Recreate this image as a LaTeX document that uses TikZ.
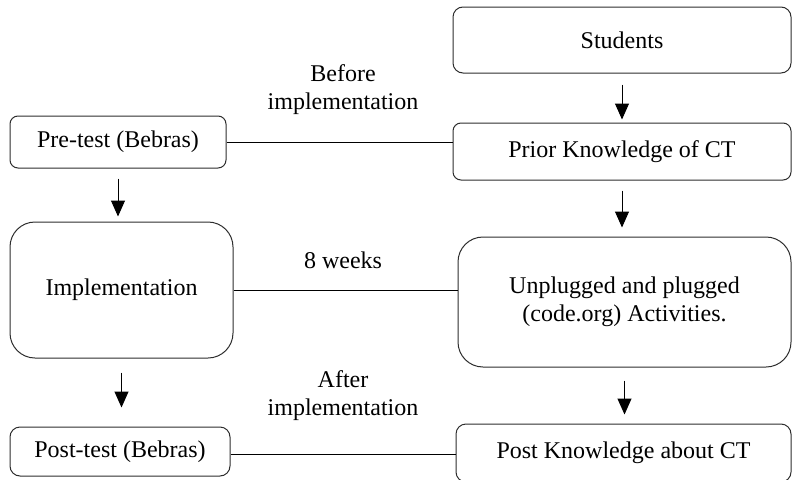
\documentclass[tikz,border=0pt]{standalone}
\usepackage{fontspec}
\setmainfont{Liberation Serif}
\usetikzlibrary{arrows.meta,positioning}
\definecolor{boxline}{RGB}{45,45,45}

\begin{document}
\begin{tikzpicture}[x=1pt, y=-1pt, every node/.style={font=\fontsize{24}{28}\selectfont},
  box/.style={draw=boxline, line width=1pt, rounded corners=#1, align=center, inner sep=0pt},
  box/.default=8pt,
  link/.style={line width=1pt},
  down/.style={line width=1pt, -{Triangle[width=14pt,length=16pt]}}]
  \useasboundingbox (0,0) rectangle (792,479);
  % ---------------- RIGHT COLUMN ----------------
  \node[box=10pt, minimum width=338pt, minimum height=66pt] (students) at (622,40) {Students};
  \node[box, minimum width=338pt, minimum height=57pt] (prior) at (622,151.5) {Prior Knowledge of CT};
  \node[box=25pt, minimum width=333pt, minimum height=130pt] (unplug) at (624.5,302) {Unplugged and plugged\\(code.org) Activities.};
  \node[box=10pt, minimum width=335pt, minimum height=58pt] (postk) at (623.5,453) {Post Knowledge about CT};
  % ---------------- LEFT COLUMN ----------------
  \node[box, minimum width=216pt, minimum height=52pt] (pre) at (118,142) {Pre-test (Bebras)};
  \node[box=25pt, minimum width=223pt, minimum height=136pt] (impl) at (121.5,290) {Implementation};
  \node[box=10pt, minimum width=220pt, minimum height=49pt] (post) at (120,451.5) {Post-test (Bebras)};
  % ---------------- LABELS ----------------
  \node[align=center] (before) at (343,90) {Before\\implementation};
  \node (weeks) at (343,260) {8 weeks};
  \node[align=center] (after) at (343,396) {After\\implementation};
  % ---------------- CONNECTORS ----------------
  \draw[down, shorten <=11pt, shorten >=3pt] (students.south) -- (prior.north);
  \draw[down, shorten <=10pt, shorten >=9pt] (prior.south) -- (prior.south |- unplug.north);
  \draw[down, shorten <=13pt, shorten >=9pt] (unplug.south) -- (unplug.south |- postk.north);
  \draw[down, shorten <=10pt, shorten >=5pt] (pre.south) -- (pre.south |- impl.north);
  \draw[down, shorten <=14pt, shorten >=19pt] (impl.south) -- (impl.south |- post.north);
  \draw[link] (pre.east) -- (pre.east -| prior.west);
  \draw[link] (impl.east) -- (impl.east -| unplug.west);
  \draw[link] ([yshift=-3pt]post.east) -- ([yshift=-3pt]post.east -| postk.west);
\end{tikzpicture}
\end{document}
